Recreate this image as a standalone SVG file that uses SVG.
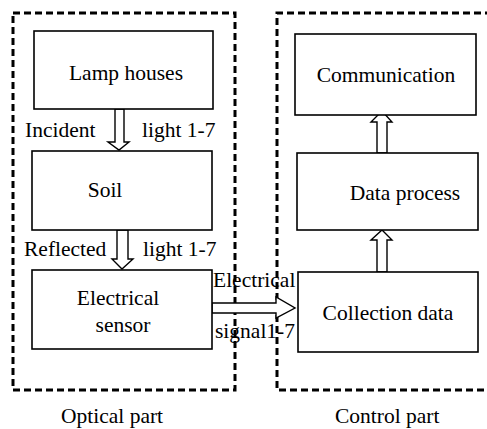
<svg xmlns="http://www.w3.org/2000/svg" width="487" height="429" viewBox="0 0 487 429">
<style>
.box{fill:#fff;stroke:#000;stroke-width:1.6}
.dash{fill:none;stroke:#000;stroke-width:3;stroke-dasharray:7 4}
.arr{fill:#fff;stroke:#000;stroke-width:1.4;stroke-linejoin:miter}
.t{font-family:'Liberation Serif','DejaVu Serif',serif;font-size:21.5px;fill:#000}
</style>
<rect width="487" height="429" fill="#fff"/>
<g id="optical-part">
<rect class="dash" x="13" y="13" width="222" height="377"/>
<text class="t" font-family="Liberation Serif, serif" x="61" y="423">Optical part</text>
</g>
<g id="control-part">
<path class="dash" d="M492,13 H277 V390 H492"/>
<text class="t" font-family="Liberation Serif, serif" x="335" y="423">Control part</text>
</g>
<g id="connectors">
<path class="arr" d="M115,109 V142 H108 L119,150 L129,142 H124 V109 Z"/>
<path class="arr" d="M117,230 V259 H112 L122,269 L133,259 H128 V230 Z"/>
<path class="arr" d="M212,303 H276 V297 L295,308 L276,318 V313 H212 Z"/>
<path class="arr" d="M377,153 V122 H371 L382,111 L392,122 H387 V153 Z"/>
<path class="arr" d="M377,272 V240 H371 L382,230 L392,240 H387 V272 Z"/>
<g font-family="Liberation Serif, serif">
<text class="t" x="25" y="137">Incident</text>
<text class="t" x="142" y="137">light 1-7</text>
<text class="t" x="24" y="256">Reflected</text>
<text class="t" x="143" y="256">light 1-7</text>
<text class="t" x="213" y="287">Electrical</text>
<text class="t" x="215" y="338">signal1-7</text>
</g>
</g>
<g id="lamp-houses">
<rect class="box" x="34" y="31" width="179" height="78"/>
<text class="t" font-family="Liberation Serif, serif" x="126" y="80" text-anchor="middle">Lamp houses</text>
</g>
<g id="soil">
<rect class="box" x="32" y="151" width="180" height="79"/>
<text class="t" font-family="Liberation Serif, serif" x="105" y="197" text-anchor="middle">Soil</text>
</g>
<g id="electrical-sensor">
<rect class="box" x="32" y="270" width="180" height="79"/>
<text class="t" font-family="Liberation Serif, serif" x="118" y="305" text-anchor="middle">Electrical</text>
<text class="t" font-family="Liberation Serif, serif" x="123" y="332" text-anchor="middle">sensor</text>
</g>
<g id="communication">
<rect class="box" x="295" y="34" width="181" height="81"/>
<text class="t" font-family="Liberation Serif, serif" x="386" y="82" text-anchor="middle">Communication</text>
</g>
<g id="data-process">
<rect class="box" x="297" y="153" width="181" height="77"/>
<text class="t" font-family="Liberation Serif, serif" x="405" y="200" text-anchor="middle">Data process</text>
</g>
<g id="collection-data">
<rect class="box" x="298" y="272" width="180" height="80"/>
<text class="t" font-family="Liberation Serif, serif" x="388" y="320" text-anchor="middle">Collection data</text>
</g>
</svg>
